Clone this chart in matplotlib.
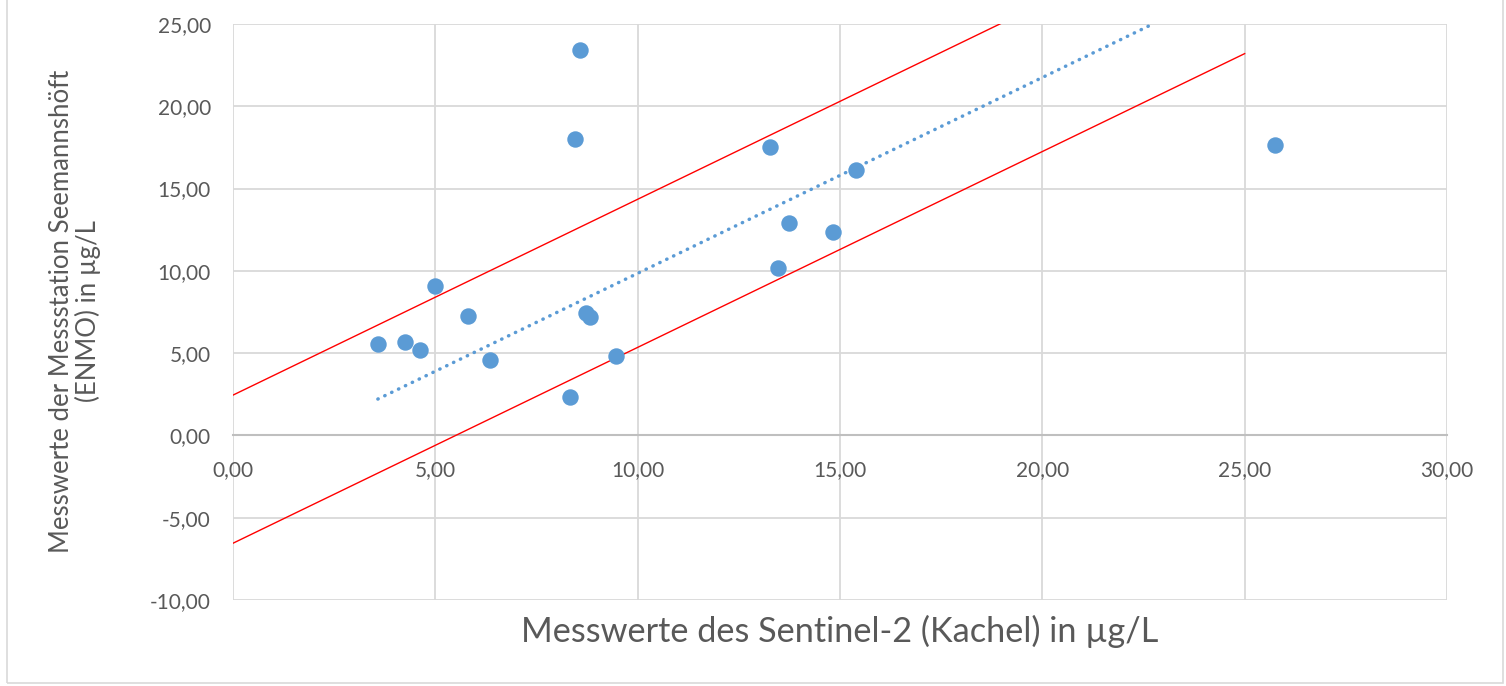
import numpy as np
import matplotlib
matplotlib.use("Agg")
import matplotlib.pyplot as plt
from matplotlib.patches import Rectangle
from matplotlib.ticker import FuncFormatter

sentinel = [3.58, 4.25, 4.62, 4.99, 5.81, 6.35, 8.33, 8.45, 8.57, 8.72,
            8.82, 9.46, 13.27, 13.47, 13.74, 14.83, 15.39, 25.75]
enmo = [5.55, 5.67, 5.18, 9.08, 7.26, 4.57, 2.32, 17.99, 23.41, 7.44,
        7.20, 4.82, 17.50, 10.18, 12.93, 12.38, 16.10, 17.62]

# Trendlinie und Grenzlinien
trend_slope = 1.19
trend_intercept = -2.05
band_offset = 4.5
upper_x = [0.0, 20.0]
lower_x = [0.0, 25.0]

grey = "#595959"
blue = "#5b9bd5"
plt.rcParams['font.family'] = ['Lato', 'DejaVu Sans']

fig = plt.figure(figsize=(15.06, 6.86), dpi=100)
ax = fig.add_axes([233 / 1506, 86 / 686, 1214 / 1506, 576 / 686])

# Grenzlinien
ux = np.array(upper_x)
lx = np.array(lower_x)
ax.plot(ux, trend_slope * ux + trend_intercept + band_offset, color="red", lw=1.0, zorder=3)
ax.plot(lx, trend_slope * lx + trend_intercept - band_offset, color="red", lw=1.0, zorder=3)

# Trendlinie
tx = np.array([min(sentinel), (25 - trend_intercept) / trend_slope])
ax.plot(tx, trend_slope * tx + trend_intercept, color=blue, lw=2.5,
        linestyle=(0, (0.1, 2.1)), dash_capstyle="round", zorder=3)

ax.scatter(sentinel, enmo, s=140, color=blue, zorder=4, linewidths=0)

ax.set_xlim(0, 30)
ax.set_ylim(-10, 25)
ax.set_xticks(np.arange(0, 31, 5))
ax.set_yticks(np.arange(-10, 26, 5))
fmt = FuncFormatter(lambda v, p: f"{v:.2f}".replace(".", ","))
ax.xaxis.set_major_formatter(fmt)
ax.yaxis.set_major_formatter(fmt)

for s in ["top", "right", "left"]:
    ax.spines[s].set_visible(False)
ax.spines["bottom"].set_position(("data", 0))
ax.spines["bottom"].set_color("#bfbfbf")
ax.spines["bottom"].set_linewidth(1.5)
ax.spines["bottom"].set_zorder(2)

ax.grid(True, color="#d9d9d9", lw=1.3, zorder=0)
ax.set_axisbelow(True)
ax.tick_params(axis="both", length=0, labelsize=15, labelcolor=grey)
ax.tick_params(axis="x", pad=18)
ax.tick_params(axis="y", pad=16)

ax.text(0.5, -0.055, "Messwerte des Sentinel-2 (Kachel) in µg/L", transform=ax.transAxes,
        ha="center", va="center", fontsize=24.7, color=grey)
fig.text(75 / 1506, 1 - 311 / 686, "Messwerte der Messstation Seemannshöft\n(ENMO) in µg/L",
         rotation=90, ha="center", va="center", multialignment="center",
         fontsize=18.5, color=grey, linespacing=1.05)

fig.patches.append(Rectangle((7 / 1506, 3 / 686), 1496 / 1506, 1.0, transform=fig.transFigure,
                             fill=False, edgecolor="#d9d9d9", lw=1.2))

fig.savefig("out.png", dpi=100)
